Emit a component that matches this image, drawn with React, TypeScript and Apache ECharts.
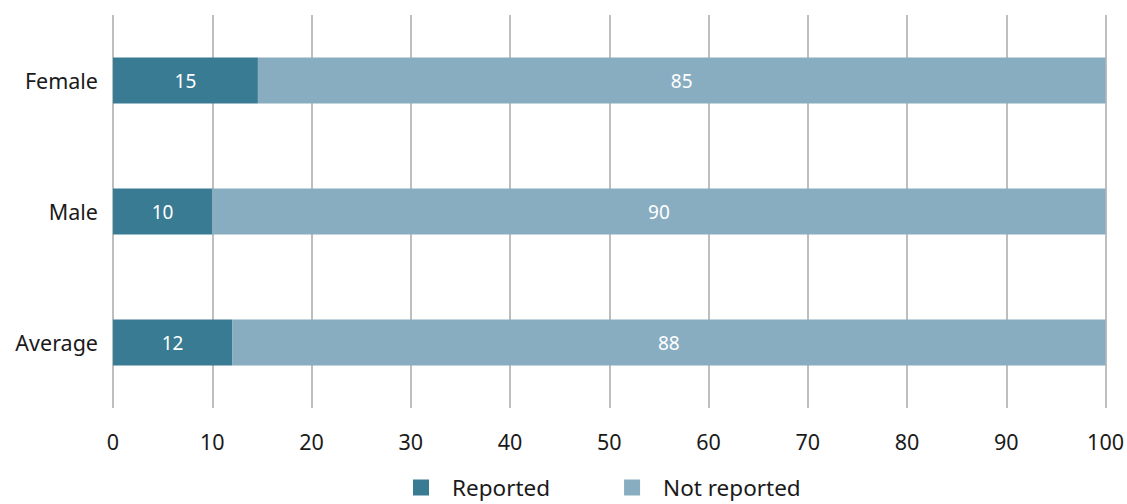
import React, { useEffect, useRef } from "react";
import * as echarts from "echarts";

const categories = ["Average", "Male", "Female"];
const reported = [12, 10, 14.6];
const notReported = [88, 90, 85.4];
const seriesNames = ["Reported", "Not reported"];
const xTicks = [0, 10, 20, 30, 40, 50, 60, 70, 80, 90, 100];

const FONT = "'Noto Sans', 'Open Sans', sans-serif";

export default function App() {
  const ref = useRef<HTMLDivElement>(null);
  useEffect(() => {
    if (!ref.current) return;
    const chart = echarts.init(ref.current, undefined, { renderer: "svg" });
    const label = {
      show: true,
      position: "inside",
      color: "#ffffff",
      fontSize: 19,
      fontFamily: FONT,
      formatter: (p: any) => String(Math.round(p.value)),
    };
    chart.setOption({
      animation: false,
      grid: { left: 113, right: 21, top: 15, bottom: 96, containLabel: false },
      legend: {
        data: seriesNames,
        bottom: 0,
        left: 408,
        icon: "rect",
        itemWidth: 16,
        itemHeight: 16,
        itemGap: 74,
        textStyle: {
          fontSize: 22.5,
          color: "#1a1a1a",
          fontFamily: FONT,
          padding: [0, 0, 0, 18],
        },
      },
      xAxis: {
        type: "value",
        min: xTicks[0],
        max: xTicks[xTicks.length - 1],
        interval: 10,
        axisLine: { show: false },
        axisTick: { show: false },
        axisLabel: {
          fontSize: 21.5,
          color: "#1a1a1a",
          fontFamily: FONT,
          margin: 22,
        },
        splitLine: { show: true, lineStyle: { color: "#a8a8a8", width: 1.5 } },
      },
      yAxis: {
        type: "category",
        data: categories,
        axisLine: { show: false },
        axisTick: { show: false },
        axisLabel: {
          fontSize: 21.5,
          color: "#1a1a1a",
          fontFamily: FONT,
          margin: 15,
        },
      },
      series: [
        {
          name: seriesNames[0],
          type: "bar",
          stack: "total",
          barWidth: "35%",
          data: reported,
          itemStyle: { color: "#3a7b94" },
          label,
        },
        {
          name: seriesNames[1],
          type: "bar",
          stack: "total",
          barWidth: "35%",
          data: notReported,
          itemStyle: { color: "#88adc0" },
          label,
        },
      ],
    });
    return () => chart.dispose();
  }, []);
  return (
    <div
      ref={ref}
      style={{ position: "fixed", left: 0, top: 0, width: 1127, height: 504, background: "#fff" }}
    />
  );
}
